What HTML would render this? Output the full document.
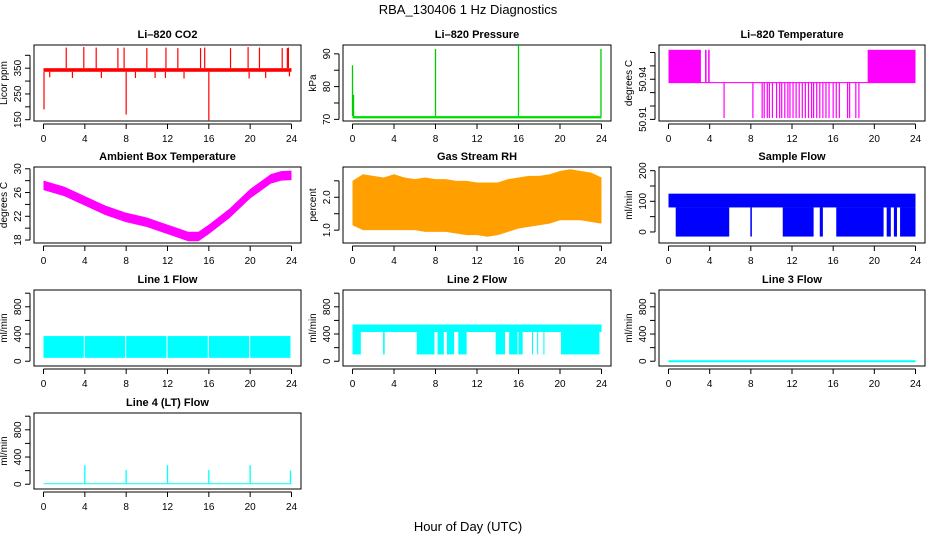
<!DOCTYPE html>
<html><head><meta charset="utf-8"><style>
html,body{margin:0;padding:0;background:#fff}
svg{display:block;font-family:"Liberation Sans",Arial,sans-serif}
</style></head><body>
<svg id="chart" width="936" height="540" viewBox="0 0 936 540" xmlns="http://www.w3.org/2000/svg">
<text x="468" y="14" font-size="13" text-anchor="middle">RBA_130406  1 Hz Diagnostics</text>
<text x="468" y="531" font-size="13" text-anchor="middle">Hour of Day (UTC)</text>
</svg>
<script>
// ---- data ----
const xTicks = [0,4,8,12,16,20,24];
const co2Base = [336, 350];
const co2SpikeHours = [2.2,3.9,5.1,7.2,7.8,10.0,11.85,13.0,15.2,15.6,18.1,19.8,20.9,23.1,23.6,23.7];
const co2SpikeVals = [430,432,430,428,430,428,430,428,428,430,428,432,430,428,428,430];
const co2DipHours = [0.05,0.6,2.8,5.6,8.0,8.9,10.8,11.8,13.6,16.0,19.9,21.5,23.8];
const co2DipVals = [190,315,312,312,170,312,312,312,310,148,310,312,318];
const presBase = [70.3, 71.0];
const presSpikeHours = [0.0,0.1,8.0,16.0,23.95];
const presSpikeVals = [86.5,77.5,91.5,93,91.5];
const tempLevels = [50.9375, 50.962, 50.911];
const tempHighStart = [0,3.55,3.85,19.35];
const tempHighEnd = [3.15,3.7,4.0,24];
const tempLowHours = [5.4,8.2,9.1,9.3,9.6,9.8,10.1,10.5,10.8,11.0,11.3,11.6,11.8,12.1,12.4,12.7,13.0,13.3,13.6,13.9,14.1,14.4,14.7,15.0,15.3,15.6,16.0,16.3,16.6,17.4,17.6,18.2,18.5];
const ambHours = [0,2,4,6,8,10,12,13,14,15,16,18,20,22,23,24];
const ambVals = [27.2,26.2,24.6,23.0,21.8,21.0,19.8,19.2,18.6,18.6,19.8,22.5,25.8,28.3,28.8,28.9];
const rhHours = [0,1,2,3,4,5,6,7,8,9,10,11,12,13,14,15,16,17,18,19,20,21,22,23,24];
const rhHigh = [2.5,2.7,2.65,2.6,2.7,2.6,2.55,2.6,2.55,2.55,2.5,2.5,2.45,2.45,2.45,2.55,2.6,2.65,2.65,2.7,2.8,2.85,2.8,2.75,2.6];
const rhLow = [1.15,1.0,1.0,1.0,1.0,1.0,1.0,0.95,0.95,0.95,0.9,0.85,0.85,0.8,0.85,0.95,1.05,1.1,1.15,1.2,1.3,1.3,1.3,1.25,1.2];
const sampleBand = [80,125];
const sampleDropStart = [0.7,7.95,11.1,14.7,16.3,21.2,21.9,22.5];
const sampleDropEnd = [5.9,8.1,14.1,15.0,20.9,21.6,22.2,24];
const sampleDropVal = -15;
const line1Start = [0,4.0,8.0,12.0,16.0,20.0];
const line1End = [3.9,7.9,11.9,15.9,19.9,23.9];
const line1Band = [50,370];
const line2Band = [430,540];
const line2DropStart = [0,2.95,6.2,8.2,9.1,10.2,13.8,15.1,16.0,17.3,17.8,18.4,20.1];
const line2DropEnd = [0.8,3.1,7.9,8.8,9.8,11.0,14.7,15.9,16.4,17.4,17.9,18.5,23.8];
const line2DropVal = 100;
const line3Val = 0;
const line4Base = [0,15];
const line4SpikeHours = [4,8,12,16,20,23.9];
const line4SpikeVals = [280,210,280,210,280,200];

// ---- layout ----
const svg = document.getElementById('chart');
const NS = 'http://www.w3.org/2000/svg';
const colL = [34,343,659], colW = [267,268,266];
const rowT = [45,167,290,413], H = 76;
function el(tag, attrs, parent){ const e=document.createElementNS(NS,tag); for(const k in attrs) e.setAttribute(k,attrs[k]); (parent||svg).appendChild(e); return e; }

function panel(row,col,title,ylab,ymin,ymax,yticks,ylabels,key){
  const L=colL[col], W=colW[col], T=rowT[row], B=T+H;
  const g=el('g',{});
  
  
  const sx=h=>L+9.5+h/24*(W-19);
  const sy=v=>B-(v-ymin)/(ymax-ymin)*H;
  const t=el('text',{x:L+W/2,y:T-7,'font-size':11,'font-weight':'bold','text-anchor':'middle'},g);
  t.textContent=title;
  
  
  const yl=el('text',{x:0,y:0,'font-size':10,'text-anchor':'middle',transform:`translate(${L-27},${T+H/2}) rotate(-90)`},g);
  yl.textContent=ylab;
  
  
  el('line',{x1:sx(0),x2:sx(24),y1:B+3,y2:B+3,stroke:'#000','stroke-width':1},g);
  xTicks.forEach(h=>{
    el('line',{x1:sx(h),x2:sx(h),y1:B+3,y2:B+8,stroke:'#000'},g);
    const tx=el('text',{x:sx(h),y:B+21,'font-size':10,'text-anchor':'middle'},g);
    tx.textContent=h;
    
    
  });
  el('line',{x1:L-4,x2:L-4,y1:sy(yticks[0]),y2:sy(yticks[yticks.length-1]),stroke:'#000'},g);
  yticks.forEach(v=>{
    el('line',{x1:L-9,x2:L-4,y1:sy(v),y2:sy(v),stroke:'#000'},g);
  });
  ylabels.forEach(v=>{
    const ty=el('text',{x:0,y:0,'font-size':10,'text-anchor':'middle',transform:`translate(${L-13},${sy(v)}) rotate(-90)`},g);
    ty.textContent=v;
    
    
  });
  const box=el('rect',{x:L,y:T,width:W,height:H,fill:'none',stroke:'#000'},g);
  
  
  const data=el('g',{},g);
  
  
  return {sx,sy,g:data};
}
function vline(p,h,v1,v2,color,w){ return el('line',{x1:p.sx(h),x2:p.sx(h),y1:p.sy(v1),y2:p.sy(v2),stroke:color,'stroke-width':w||1},p.g); }
function band(p,h1,h2,v1,v2,color){ return el('rect',{x:p.sx(h1),y:p.sy(v2),width:Math.max(1,p.sx(h2)-p.sx(h1)),height:Math.max(1,p.sy(v1)-p.sy(v2)),fill:color},p.g); }

// CO2
let p=panel(0,0,'Li\u2013820 CO2','Licor ppm',145,440,[150,200,250,300,350,400],[150,250,350],'co2');
band(p,0,24,co2Base[0],co2Base[1],'#ff0000');
co2SpikeHours.forEach((h,i)=>vline(p,h,co2Base[1],co2SpikeVals[i],'#ff0000',1.2));
co2DipHours.forEach((h,i)=>vline(p,h,co2Base[0],co2DipVals[i],'#ff0000',1.2));
// Pressure
p=panel(0,1,'Li\u2013820 Pressure','kPa',69.5,92.7,[70,75,80,85,90],[70,80,90],'pressure');
band(p,0,24,presBase[0],presBase[1],'#00dd00');
presSpikeHours.forEach((h,i)=>vline(p,h,presBase[1],presSpikeVals[i],'#00cc00',1.3));
// Temperature
p=panel(0,2,'Li\u2013820 Temperature','degrees C',50.9088,50.9656,[50.91,50.92,50.93,50.94,50.95,50.96],[50.91,50.94],'li820-temp');
band(p,0,24,tempLevels[0]-0.0004,tempLevels[0]+0.0004,'#ff00ff');
tempHighStart.forEach((s,i)=>band(p,s,tempHighEnd[i],tempLevels[0],tempLevels[1],'#ff00ff'));
tempLowHours.forEach(h=>vline(p,h,tempLevels[0],tempLevels[2],'#ff00ff',1.2));
// Ambient
p=panel(1,0,'Ambient Box Temperature','degrees C',17.5,30.3,[18,20,22,24,26,28,30],[18,22,26,30],'ambient-temp');
{const up=ambHours.map((h,i)=>p.sx(h)+','+p.sy(ambVals[i]+0.8));
 const dn=ambHours.map((h,i)=>p.sx(h)+','+p.sy(ambVals[i]-0.8)).reverse();
 el('polygon',{points:up.concat(dn).join(' '),fill:'#ff00ff'},p.g);}
// RH
p=panel(1,1,'Gas Stream RH','percent',0.61,2.92,[1.0,1.5,2.0,2.5],['1.0','2.0'],'gas-rh');
{const up=rhHours.map((h,i)=>p.sx(h)+','+p.sy(rhHigh[i]));
 const dn=rhHours.map((h,i)=>p.sx(h)+','+p.sy(rhLow[i])).reverse();
 el('polygon',{points:up.concat(dn).join(' '),fill:'#ffa000'},p.g);}
// Sample flow
p=panel(1,2,'Sample Flow','ml/min',-36,212,[0,50,100,150,200],[0,100,200],'sample-flow');
band(p,0,24,sampleBand[0],sampleBand[1],'#0000ff');
sampleDropStart.forEach((s,i)=>band(p,s,sampleDropEnd[i],sampleDropVal,sampleBand[0],'#0000ff'));
// Line 1
const fT=[0,200,400,600,800,1000], fL=[0,400,800];
p=panel(2,0,'Line 1 Flow','ml/min',-70,1047,fT,fL,'line1-flow');
line1Start.forEach((s,i)=>band(p,s,line1End[i],line1Band[0],line1Band[1],'#00ffff'));
// Line 2
p=panel(2,1,'Line 2 Flow','ml/min',-70,1047,fT,fL,'line2-flow');
band(p,0,24,line2Band[0],line2Band[1],'#00ffff');
line2DropStart.forEach((s,i)=>band(p,s,line2DropEnd[i],line2DropVal,line2Band[0],'#00ffff'));
// Line 3
p=panel(2,2,'Line 3 Flow','ml/min',-70,1047,fT,fL,'line3-flow');
el('line',{x1:p.sx(0),x2:p.sx(24),y1:p.sy(line3Val),y2:p.sy(line3Val),stroke:'#00ffff','stroke-width':2},p.g);
// Line 4
p=panel(3,0,'Line 4 (LT) Flow','ml/min',-70,1047,fT,fL,'line4-flow');
band(p,0,24,line4Base[0],line4Base[1],'#00ffff');
line4SpikeHours.forEach((h,i)=>vline(p,h,line4Base[1],line4SpikeVals[i],'#00ffff',1.3));
</script>
</body></html>
